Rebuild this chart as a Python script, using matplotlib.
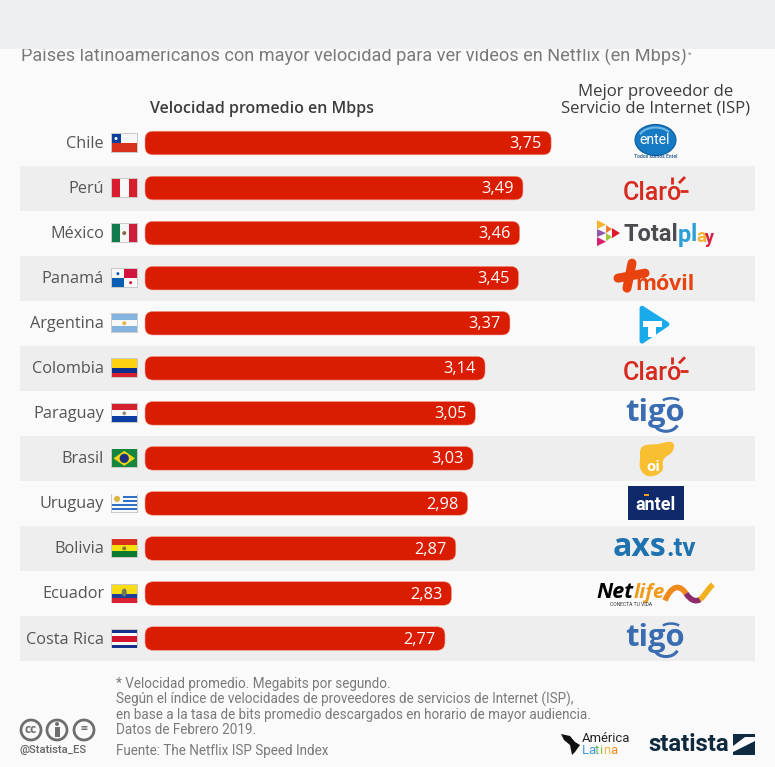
import numpy as np
import matplotlib
matplotlib.use("Agg")
import matplotlib.pyplot as plt
from matplotlib.patches import FancyBboxPatch, Rectangle, Ellipse, Polygon, Circle, PathPatch, Arc
from matplotlib.path import Path

plt.rcParams['font.family'] = ['Open Sans', 'DejaVu Sans']

countries = ["Chile", "Perú", "México", "Panamá", "Argentina", "Colombia",
             "Paraguay", "Brasil", "Uruguay", "Bolivia", "Ecuador", "Costa Rica"]
speeds = [3.75, 3.49, 3.46, 3.45, 3.37, 3.14, 3.05, 3.03, 2.98, 2.87, 2.83, 2.77]
subtitle = "Países latinoamericanos con mayor velocidad para ver videos en Netflix (en Mbps)"
head_left = "Velocidad promedio en Mbps"
head_right = "Mejor proveedor de\nServicio de Internet (ISP)"
notes = ["* Velocidad promedio. Megabits por segundo.",
         "Según el índice de velocidades de proveedores de servicios de Internet (ISP),",
         "en base a la tasa de bits promedio descargados en horario de mayor audiencia.",
         "Datos de Febrero 2019."]
source = "Fuente: The Netflix ISP Speed Index"

W, H = 775, 767
PX = 72 / 100
fig = plt.figure(figsize=(W / 100, H / 100), dpi=100, facecolor="#fafafa")

px = fig.add_axes([0, 0, 1, 1])
px.set_xlim(0, W); px.set_ylim(H, 0); px.axis("off")

# data axes: x = Mbps, y = row index
X0, PX_PER_UNIT = 145.0, 108.3
Y0, ROW = 143.0, 45.05
ax = fig.add_axes([0, 0, 1, 1])
ax.set_xlim(-X0 / PX_PER_UNIT, (W - X0) / PX_PER_UNIT)
ax.set_ylim((H - Y0) / ROW, -Y0 / ROW)
ax.axis("off"); ax.patch.set_alpha(0)

ROBOTO = ['Roboto', 'DejaVu Sans']

def rect(x0, y0, x1, y1, c, z=3, **k):
    px.add_patch(Rectangle((x0, y0), x1 - x0, y1 - y0, fc=c, ec="none", zorder=z, **k))

def T(x, y, s, size, c="#555555", ha="left", va="center", z=5, **k):
    return px.text(x, y + 1.5, s, fontsize=size * PX, color=c, ha=ha, va=va, zorder=z, **k)

# header band (clips the top of the subtitle)
T(21, 55, subtitle, 18.1, "#7a7a7a", z=1, family=ROBOTO)
T(687.5, 53, "*", 8, "#7a7a7a", z=1, family=ROBOTO)
rect(0, 0, W, 49, "#eeeff1", z=2)
T(262, 107.5, head_left, 16, "#3c3c3c", ha="center", fontweight="semibold")
T(655.5, 98.5, head_right, 16.7, "#3c3c3c", ha="center", fontweight="normal", linespacing=1.08)

# rows
for i, (name, v) in enumerate(zip(countries, speeds)):
    yc = Y0 + i * ROW
    if i % 2 == 1:
        rect(20, yc - 22.5, 755, yc + 22.5, "#eeeeee", z=0.5)
    T(104, yc - 0.5, name, 16.2, "#555555", ha="right")

rs = 8 / PX_PER_UNIT
for i, v in enumerate(speeds):
    ax.add_patch(FancyBboxPatch((0, i - 0.262), v, 0.524,
                 boxstyle=f"round,pad=0,rounding_size={rs}",
                 mutation_aspect=(8 / ROW) / rs, fc="#da1c00", ec="#f2a090", lw=0.4, zorder=3))
    ax.text(v - 9 / PX_PER_UNIT, i + 0.025, f"{v:.2f}".replace(".", ","), color="white",
            fontsize=16.4 * PX, ha="right", va="center", zorder=4)

# flags
FX0, FX1, FH = 111.5, 137, 9
def flag_frame(yc):
    px.add_patch(Rectangle((FX0 - 0.8, yc - FH - 0.8), FX1 - FX0 + 1.6, 2 * FH + 1.6,
                           fc="#c9c9c9", ec="none", zorder=2.5))
def hs(yc, stripes):
    tot = sum(s[0] for s in stripes); y = yc - FH
    for w, c in stripes:
        h = 2 * FH * w / tot; rect(FX0, y, FX1, y + h, c); y += h
def vs(yc, stripes):
    tot = sum(s[0] for s in stripes); x = FX0
    for w, c in stripes:
        d = (FX1 - FX0) * w / tot; rect(x, yc - FH, x + d, yc + FH, c); x += d
def dot(x, y, r, c):
    px.add_patch(Circle((x, y), r, fc=c, ec="none", zorder=4))

def draw_flag(i):
    y = Y0 + i * ROW
    flag_frame(y)
    n = countries[i]; xm = (FX0 + FX1) / 2
    if n == "Chile":
        hs(y, [(1, "#f7f7f7"), (1, "#d8321f")])
        rect(FX0, y - FH, FX0 + 9, y, "#0b3f9c"); dot(FX0 + 4.5, y - FH / 2, 1.5, "white")
    elif n == "Perú":
        vs(y, [(1, "#d81e2c"), (1, "#f8f8f8"), (1, "#d81e2c")])
    elif n == "México":
        vs(y, [(1, "#0f7a4b"), (1, "#f5f5f5"), (1, "#ce1f3c")]); dot(xm, y, 2, "#8a6a4a")
    elif n == "Panamá":
        rect(FX0, y - FH, FX1, y + FH, "#f8f8f8")
        rect(xm, y - FH, FX1, y, "#d3143f"); rect(FX0, y, xm, y + FH, "#0a5fb4")
        dot((FX0 + xm) / 2, y - FH / 2, 1.5, "#0a5fb4"); dot((FX1 + xm) / 2, y + FH / 2, 1.5, "#d3143f")
    elif n == "Argentina":
        hs(y, [(1, "#83b4e0"), (1, "#f8f8f8"), (1, "#83b4e0")]); dot(xm, y, 2, "#eeb04a")
    elif n == "Colombia":
        hs(y, [(2, "#fcd20f"), (1, "#0f2f8a"), (1, "#d81f2d")])
    elif n == "Paraguay":
        hs(y, [(1, "#d5202f"), (1, "#f8f8f8"), (1, "#0b3ea0")]); dot(xm, y, 1.8, "#8f8a70")
    elif n == "Brasil":
        rect(FX0, y - FH, FX1, y + FH, "#16863f")
        px.add_patch(Polygon([(FX0 + 2, y), (xm, y - FH + 1.5), (FX1 - 2, y), (xm, y + FH - 1.5)],
                             fc="#f3d516", ec="none", zorder=3.5))
        dot(xm, y, 4.6, "#1f2f80")
    elif n == "Uruguay":
        hs(y, [(1, "#f8f8f8"), (1, "#2f6fc4")] * 4 + [(1, "#f8f8f8")])
        rect(FX0, y - FH, xm - 1, y, "#f8f8f8"); dot(FX0 + 5.5, y - FH / 2, 3, "#dcb53c")
    elif n == "Bolivia":
        hs(y, [(1, "#d8321a"), (1, "#f5e10c"), (1, "#0c7a30")]); dot(xm, y, 2, "#7d7a3a")
    elif n == "Ecuador":
        hs(y, [(2, "#fcdc12"), (1, "#1d3f9c"), (1, "#d91f30")])
        px.add_patch(Ellipse((xm, y - 1), 5, 8, fc="#6c7a5a", ec="none", zorder=4))
    elif n == "Costa Rica":
        hs(y, [(1, "#13308a"), (1, "#f8f8f8"), (2, "#d2142e"), (1, "#f8f8f8"), (1, "#13308a")])

for i in range(len(countries)):
    draw_flag(i)

# ISP logos
def logo_entel(yc):
    px.add_patch(Ellipse((655.5, yc - 3), 41, 31, fc="#1579c4", ec="#0f5f9e", lw=0.8, zorder=3))
    px.add_patch(Arc((655.5, yc - 3), 35, 25, theta1=200, theta2=330, color="#6fb8e6", lw=1.5, zorder=4))
    T(655, yc - 4, "entel", 14, "white", ha="center", family=ROBOTO)
    T(656, yc + 12.5, "Todos somos Entel", 5, "#1a4f8a", ha="center", family=ROBOTO, fontweight="medium")

def logo_claro(yc):
    c = "#d7291d"
    T(622.5, yc + 3, "Claro", 25, c, family=ROBOTO, fontweight="medium")
    for a, b in [((671.5, yc - 11), (671.5, yc - 4)), ((679, yc - 5), (685, yc - 11)), ((680, yc + 3), (688, yc + 3))]:
        px.plot([a[0], b[0]], [a[1], b[1]], color=c, lw=2, solid_capstyle="butt", zorder=5)

def logo_totalplay(yc):
    tris = [((597, yc - 13), (597, yc - 4), (606, yc - 8.5), "#f6b52e"),
            ((597, yc - 4), (597, yc + 4), (606, yc), "#8e5aa8"),
            ((597, yc + 4), (597, yc + 13), (606, yc + 8.5), "#d81f6c"),
            ((606, yc - 8), (606, yc), (612, yc - 4), "#ef7b2a"),
            ((606, yc), (606, yc + 8), (612, yc + 4), "#a4c23c"),
            ((612, yc - 5), (612, yc + 5), (620, yc), "#e0182d")]
    for a, b, d, c in tris:
        px.add_patch(Polygon([a, b, d], fc=c, ec="none", zorder=4))
    T(623, yc, "Total", 23.5, "#4b4c50", family=ROBOTO, fontweight="bold")
    T(678, yc + 1, "p", 23.5, "#2c9fd8", family=ROBOTO, fontweight="bold")
    T(691, yc, "l", 23.5, "#2c9fd8", family=ROBOTO, fontweight="bold")
    T(696, yc + 2, "a", 19, "#f4b43a", family=ROBOTO, fontweight="bold")
    T(705, yc + 3, "y", 18, "#d81f45", family=ROBOTO, fontweight="bold")

def logo_movil(yc):
    c = "#e8430f"
    px.plot([618, 645], [yc + 0, yc - 5], color=c, lw=6.5, solid_capstyle="round", zorder=4)
    px.plot([632, 627], [yc - 15, yc + 10], color=c, lw=6.5, solid_capstyle="round", zorder=4)
    T(635.5, yc + 4.5, "móvil", 21.5, c, fontweight="bold")

def logo_t(yc):
    c = "#18aaeb"
    px.add_patch(Polygon([(642, yc - 15), (667, yc + 1), (642, yc + 18)], fc=c, ec=c, lw=3.5, joinstyle="round", zorder=4))
    rect(643, yc - 2, 662, yc + 4, "white", z=5); rect(648, yc - 2, 656, yc + 14, "white", z=5)

def logo_tigo(yc):
    c = "#3a6cb2"
    T(655.5, yc - 2, "tigo", 31, c, ha="center", fontweight="bold")
    px.add_patch(Arc((666, yc + 9), 24, 18, theta1=15, theta2=165, color=c, lw=2.2, zorder=5))
    px.add_patch(Arc((671, yc - 10), 20, 10, theta1=200, theta2=340, color=c, lw=1.8, zorder=5))

def logo_oi(yc):
    c = "#f9bf32"
    v = [(640, yc - 6), (640, yc - 14), (648, yc - 14), (655, yc - 14), (661, yc - 14), (668, yc - 18), (672, yc - 16),
         (676, yc - 14), (674, yc - 6), (668, yc - 3), (663, yc), (662, yc + 3), (663, yc + 8),
         (664, yc + 14), (656, yc + 18), (650, yc + 18), (643, yc + 18), (638, yc + 10), (640, yc + 2),
         (640, yc), (640, yc - 3), (640, yc - 6)]
    px.add_patch(PathPatch(Path(v, [Path.MOVETO] + [Path.CURVE4] * 21), fc=c, ec="none", zorder=4))
    T(653, yc + 7, "oi", 15, "white", ha="center", fontweight="bold")

def logo_antel(yc):
    rect(628, yc - 17, 684, yc + 17, "#10296a", z=4)
    T(656, yc, "antel", 18, "white", ha="center", fontweight="bold", family=ROBOTO)
    rect(644, yc - 9, 649, yc - 7, "#f0a020", z=6)

def logo_axs(yc):
    T(613, yc - 2, "axs", 32, "#1f72b0", fontweight="bold")
    T(666, yc - 1, ".tv", 26, "#1f72b0", fontweight="bold", family=ROBOTO)

def logo_netlife(yc):
    T(596, yc - 2, "Net", 21.5, "black", fontweight="bold", fontstyle="italic")
    T(633.5, yc - 2, "life", 20.5, "#ef9a1a", fontweight="bold", fontstyle="italic")
    segs = [([(665, yc + 7), (672, yc - 9), (680, yc - 9), (686, yc)], "#ef8a1a"),
            ([(686, yc), (690, yc + 6), (695, yc + 9), (700, yc + 6)], "#8c2a6a"),
            ([(700, yc + 6), (705, yc + 2), (708, yc - 5), (713, yc - 9)], "#f2b01e")]
    for v, col in segs:
        px.add_patch(PathPatch(Path(v, [Path.MOVETO] + [Path.CURVE4] * 3), fc="none", ec=col, lw=4, zorder=4))
    T(610, yc + 9.5, "CONECTA TU VIDA", 5, "#333333", family=ROBOTO)

logos = {"Chile": logo_entel, "Perú": logo_claro, "México": logo_totalplay, "Panamá": logo_movil,
         "Argentina": logo_t, "Colombia": logo_claro, "Paraguay": logo_tigo, "Brasil": logo_oi,
         "Uruguay": logo_antel, "Bolivia": logo_axs, "Ecuador": logo_netlife, "Costa Rica": logo_tigo}
for i, n in enumerate(countries):
    logos[n](Y0 + i * ROW)

# footer
for yy, line in zip([682.5, 698, 713.5, 728.5], notes):
    T(116, yy, line, 13.5, "#7a7a7a", family=ROBOTO)
T(116, 749, source, 13.5, "#7a7a7a", family=ROBOTO)
for x, s in [(31, "cc"), (57, ""), (84, "=")]:
    px.add_patch(Circle((x, 730), 10, fc="#fafafa", ec="#6e6e6e", lw=2, zorder=4))
    if s:
        T(x, 728, s, 12, "#6e6e6e", ha="center", fontweight="bold")
dot(57, 724, 2, "#6e6e6e"); rect(54.5, 727, 59.5, 737, "#6e6e6e", z=5)
T(20, 748.5, "@Statista_ES", 11.2, "#666666", fontweight="medium", family=ROBOTO)

px.add_patch(Polygon([(561, 734), (570, 736), (575, 742), (580, 745), (575, 752), (572, 755), (570, 745), (564, 740)],
                     fc="#111111", ec="none", zorder=4))
T(582, 737, "América", 13, "#222222", family=ROBOTO)
x = 582
for ch, c, w in zip("Latina", ["#3a9ad9", "#3a9ad9", "#5db55b", "#8bc34a", "#f4b43a", "#f08a24"], [6.2, 6.6, 4.5, 3.4, 7.2, 6.5]):
    T(x, 749, ch, 13, c, family=ROBOTO); x += w
T(648.5, 743, "statista", 24, "#0f2a3f", fontweight="bold", family=ROBOTO)
rect(733, 734, 755, 755, "#0f2a3f", z=4)
px.add_patch(Polygon([(733, 752), (733, 746), (745, 737), (755, 737), (755, 741), (745, 746)], fc="#fafafa", ec="none", zorder=5))

fig.savefig("out.png", dpi=100, facecolor=fig.get_facecolor())
